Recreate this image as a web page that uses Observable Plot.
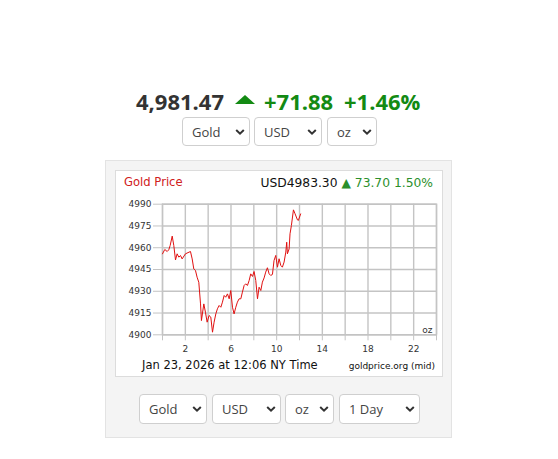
<!DOCTYPE html>
<html><head><meta charset="utf-8">
<script src="https://cdn.jsdelivr.net/npm/d3@7"></script>
<script src="https://cdn.jsdelivr.net/npm/@observablehq/plot@0.6"></script>
<style>
html,body{margin:0;padding:0;background:#fff;width:558px;height:459px;overflow:hidden;position:relative;font-family:"Open Sans",sans-serif;}
.abs{position:absolute;}
.sel{position:absolute;box-sizing:border-box;border:1px solid #cfcfcf;border-radius:4px;background:#fff;color:#444;font-size:13px;font-family:"Open Sans",sans-serif;}
.sel span{position:absolute;left:9px;top:50%;transform:translateY(-52%);}
.sel svg{position:absolute;right:4px;top:50%;transform:translateY(-50%);}
#panel{left:105px;top:160px;width:347px;height:278px;box-sizing:border-box;background:#f4f4f4;border:1px solid #e3e3e3;}
#inner{left:115px;top:170px;width:328px;height:207px;box-sizing:border-box;background:#fff;border:1px solid #dcdcdc;}
</style></head>
<body>
<div id="root"></div>
<script>
// ---- data ----
const hours = [0,0.20,0.41,0.55,0.67,0.85,0.99,1.14,1.28,1.43,1.58,1.72,2.01,2.45,2.60,2.74,2.89,3.03,3.18,3.33,3.41,3.62,3.76,3.91,4.08,4.23,4.38,4.52,4.67,4.81,4.96,5.11,5.25,5.40,5.54,5.69,5.84,5.98,6.13,6.27,6.42,6.56,6.71,6.86,7.00,7.15,7.29,7.44,7.59,7.73,7.88,8.02,8.17,8.32,8.46,8.61,8.75,8.90,9.04,9.19,9.34,9.48,9.63,9.77,9.92,10.07,10.21,10.36,10.50,10.65,10.80,10.88,10.94,11.09,11.17,11.29,11.47,11.61,11.82,11.90,12.10];
const prices = [4955.8,4958.8,4957.4,4958.6,4961.5,4968.0,4961.5,4951.6,4955.8,4953.5,4954.6,4952.3,4955.8,4957.4,4952.3,4945.4,4944.3,4939.7,4936.2,4921.3,4909.8,4921.3,4915.6,4908.7,4913.3,4912.2,4901.8,4908.7,4914.4,4917.9,4920.2,4919.0,4922.5,4927.1,4925.9,4928.2,4924.8,4930.5,4919.0,4914.4,4919.0,4922.5,4924.8,4924.8,4929.4,4934.0,4935.1,4934.0,4937.4,4942.0,4940.2,4943.6,4937.4,4924.8,4932.8,4930.5,4936.3,4939.2,4943.2,4946.2,4942.0,4940.9,4941.6,4951.2,4954.7,4946.6,4952.4,4947.8,4946.6,4950.1,4957.0,4963.8,4955.8,4959.2,4969.6,4975.3,4986.1,4983.4,4979.2,4978.8,4983.3];
const yTicks = [4900,4915,4930,4945,4960,4975,4990];
const xTicks = [0,2,4,6,8,10,12,14,16,18,20,22,24];
const xLabels = [2,6,10,14,18,22];
const headPrice = "4,981.47", headChange = "+71.88", headPct = "+1.46%";
const chartTitle = "Gold Price", chartPrice = "USD4983.30", chartChange = "▲ 73.70 1.50%";
const footDate = "Jan 23, 2026 at 12:06 NY Time", footSrc = "goldprice.org (mid)";
const unitLabel = "oz";
const topSelects = ["Gold","USD","oz"];
const bottomSelects = ["Gold","USD","oz","1 Day"];

const green = "#138a13";
const root = document.getElementById("root");
function el(html){const d=document.createElement("div");d.innerHTML=html;const n=d.firstElementChild;root.appendChild(n);return n;}
const chev = '<svg width="10" height="7" viewBox="0 0 10 7"><polyline points="1.2,1.5 5,5.2 8.8,1.5" fill="none" stroke="#333" stroke-width="2"/></svg>';
function sel(label,left,top,w,h){el(`<div class="sel" style="left:${left}px;top:${top}px;width:${w}px;height:${h}px"><span>${label}</span>${chev}</div>`);}

// header
el(`<div class="abs" style="left:136px;top:86px;font-size:22px;font-weight:700;color:#333;white-space:nowrap;line-height:30px">${headPrice}</div>`);
el(`<div class="abs" style="left:235px;top:95px;width:0;height:0;border-left:10px solid transparent;border-right:10px solid transparent;border-bottom:9px solid ${green}"></div>`);
el(`<div class="abs" style="left:264px;top:86px;font-size:22px;font-weight:700;color:${green};white-space:nowrap;line-height:30px">${headChange}</div>`);
el(`<div class="abs" style="left:344px;top:86px;font-size:22px;font-weight:700;color:${green};white-space:nowrap;line-height:30px">${headPct}</div>`);
sel(topSelects[0],182,117,68,29);
sel(topSelects[1],254,117,68,29);
sel(topSelects[2],327,117,50,29);

el('<div id="panel" class="abs"></div>');
el('<div id="inner" class="abs"></div>');

// chart
const data = hours.map((h,i)=>({h, p: prices[i]}));
const gridC = "#c4c4c4";
const chart = Plot.plot({
  width: 328, height: 207,
  marginLeft: 47, marginRight: 7, marginTop: 33.7, marginBottom: 42.7,
  style: {background: "transparent", fontFamily: "DejaVu Sans, sans-serif", fontSize: "9px", color: "#333"},
  x: {domain: [0,24], type: "linear"},
  y: {domain: [4900,4990]},
  marks: [
    Plot.gridX(xTicks, {stroke: gridC, strokeOpacity: 1, strokeWidth: 1.4}),
    Plot.gridY(yTicks, {stroke: gridC, strokeOpacity: 1, strokeWidth: 1.4}),
    Plot.frame({stroke: gridC, strokeWidth: 1.4}),
    Plot.axisY(yTicks, {tickSize: 9, tickPadding: 2, stroke: gridC, strokeOpacity: 1, fill: "#333", label: null, fontSize: 9,
      tickFormat: d => String(d)}),
    Plot.axisX(xTicks, {tickSize: 6, tickPadding: 5, stroke: gridC, strokeOpacity: 1, fill: "#333", label: null, fontSize: 9,
      tickFormat: d => xLabels.includes(d) ? String(d) : ""}),
    Plot.line(data, {x: "h", y: "p", stroke: "#e01010", strokeWidth: 1}),
    Plot.text([unitLabel], {frameAnchor: "bottom-right", dx: -4, dy: -2, fill: "#333", fontSize: 9})
  ]
});
chart.style.position = "absolute";
chart.style.left = "115px";
chart.style.top = "170px";
root.appendChild(chart);

el(`<div class="abs" style="left:124px;top:175px;font-family:'DejaVu Sans';font-size:11.6px;color:#d02020;white-space:nowrap">${chartTitle}</div>`);
el(`<div class="abs" style="right:125px;top:176px;font-family:'DejaVu Sans';font-size:12.3px;white-space:nowrap"><span style="color:#111">${chartPrice}</span> <span style="color:#2b8f2b">${chartChange}</span></div>`);
el(`<div class="abs" style="left:142px;top:358px;font-family:'DejaVu Sans';font-size:11.5px;color:#111;white-space:nowrap">${footDate}</div>`);
el(`<div class="abs" style="right:123px;top:361px;font-family:'DejaVu Sans';font-size:9px;color:#111;white-space:nowrap">${footSrc}</div>`);

sel(bottomSelects[0],139,394,68,30);
sel(bottomSelects[1],212,394,69,30);
sel(bottomSelects[2],285,394,49,30);
sel(bottomSelects[3],339,394,81,30);
</script>
</body></html>
